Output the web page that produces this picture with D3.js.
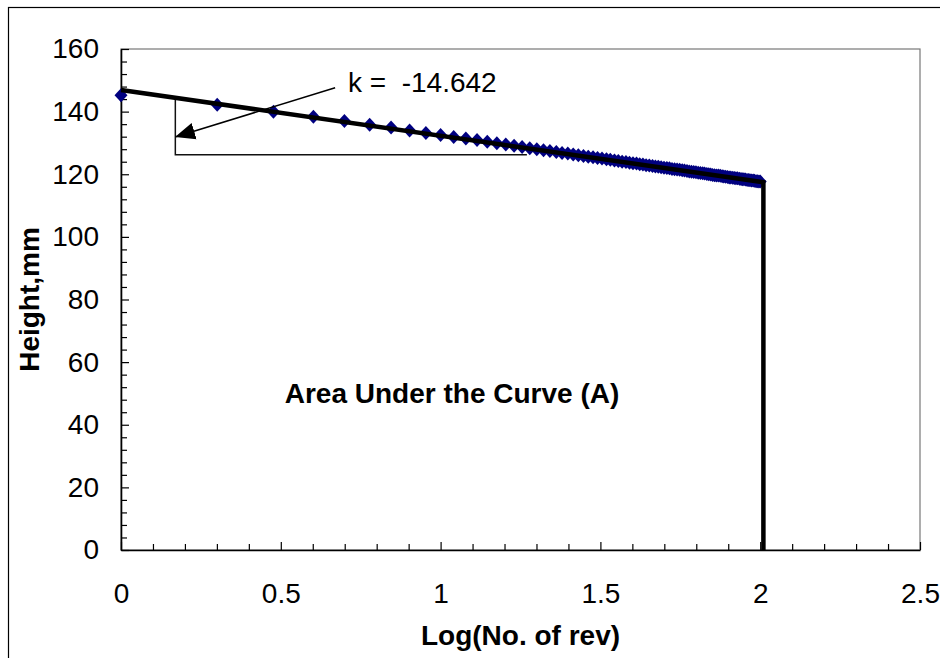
<!DOCTYPE html>
<html>
<head>
<meta charset="utf-8">
<script src="https://cdn.jsdelivr.net/npm/d3@7"></script>
<style>
  body { margin: 0; background: #fff; }
  text { font-family: "Liberation Sans", Arial, sans-serif; fill: #000; }
</style>
</head>
<body>
<div id="chart-area"></div>
<script>
// Data
const logRev = [0, 0.301, 0.477, 0.602, 0.699, 0.778, 0.845, 0.903, 0.954, 1.0,
  1.041, 1.079, 1.114, 1.146, 1.176, 1.204, 1.230, 1.255, 1.279, 1.301,
  1.322, 1.342, 1.362, 1.380, 1.398, 1.415, 1.431, 1.447, 1.462, 1.477,
  1.491, 1.505, 1.519, 1.531, 1.544, 1.556, 1.568, 1.580, 1.591, 1.602,
  1.613, 1.623, 1.633, 1.643, 1.653, 1.663, 1.672, 1.681, 1.690, 1.699,
  1.708, 1.716, 1.724, 1.732, 1.740, 1.748, 1.756, 1.763, 1.771, 1.778,
  1.785, 1.792, 1.799, 1.806, 1.813, 1.820, 1.826, 1.833, 1.839, 1.845,
  1.851, 1.857, 1.863, 1.869, 1.875, 1.881, 1.886, 1.892, 1.898, 1.903,
  1.908, 1.914, 1.919, 1.924, 1.929, 1.935, 1.940, 1.944, 1.949, 1.954,
  1.959, 1.964, 1.968, 1.973, 1.978, 1.982, 1.987, 1.991, 1.996, 2.0]
const height_mm = [145.2, 142.2, 140.0, 138.4, 137.0, 135.8, 134.9, 134.0, 133.2, 132.5,
  131.9, 131.4, 130.9, 130.4, 129.9, 129.5, 129.1, 128.7, 128.3, 128.0,
  127.7, 127.4, 127.1, 126.8, 126.6, 126.3, 126.1, 125.8, 125.6, 125.4,
  125.2, 125.0, 124.8, 124.6, 124.4, 124.2, 124.0, 123.9, 123.7, 123.5,
  123.4, 123.2, 123.1, 122.9, 122.8, 122.6, 122.5, 122.4, 122.2, 122.1,
  122.0, 121.9, 121.7, 121.6, 121.5, 121.4, 121.3, 121.2, 121.0, 120.9,
  120.8, 120.7, 120.6, 120.5, 120.4, 120.3, 120.2, 120.1, 120.0, 119.9,
  119.8, 119.7, 119.6, 119.6, 119.5, 119.4, 119.3, 119.2, 119.1, 119.0,
  119.0, 118.9, 118.8, 118.7, 118.7, 118.6, 118.5, 118.4, 118.4, 118.3,
  118.2, 118.2, 118.1, 118.0, 118.0, 117.9, 117.8, 117.8, 117.7, 117.7]

// Trend line (slope shown on chart) and its end
const slope = -14.642, intercept = 146.9
const trendX = [0, 2.01]

// Slope triangle + arrow annotation
const triX = [0.17, 0.17, 1.27]
const triY = [144.4, 126.2, 126.2]
const arrowFrom = [0.67, 147.6], arrowTo = [0.172, 132.0]

// Ticks
const xTicks = [0, 0.5, 1, 1.5, 2, 2.5]
const xMinor = [0.1, 0.2, 0.3, 0.4, 0.6, 0.7, 0.8, 0.9, 1.1, 1.2, 1.3, 1.4, 1.6, 1.7, 1.8, 1.9, 2.1, 2.2, 2.3, 2.4]
const yTicks = [0, 20, 40, 60, 80, 100, 120, 140, 160]
const yMinor = [4, 8, 12, 16, 24, 28, 32, 36, 44, 48, 52, 56, 64, 68, 72, 76, 84, 88, 92, 96,
  104, 108, 112, 116, 124, 128, 132, 136, 144, 148, 152, 156]

// Config
const W = 940, H = 658
const margin = {top: 49, right: 20, bottom: 108, left: 121}
const width = 920 - margin.left, height = 550 - margin.top
const FS = 28

const svg = d3.select("#chart-area")
  .append("svg")
    .attr("width", W)
    .attr("height", H)

// outer chart border (extends past the picture)
svg.append("rect")
  .attr("x", 8.5).attr("y", 7.5)
  .attr("width", W + 20).attr("height", H + 20)
  .attr("fill", "none").attr("stroke", "#000").attr("stroke-width", 1.2)

const g = svg.append("g")
  .attr("transform", "translate(" + margin.left + ", " + margin.top + ")")

// Scales
const x = d3.scaleLinear().domain([0, 2.5]).range([0, width])
const y = d3.scaleLinear().domain([0, 160]).range([height, 0])

// Plot frame
g.append("rect")
  .attr("width", width).attr("height", height)
  .attr("fill", "none").attr("stroke", "#777").attr("stroke-width", 1.2)

// Axes
const fmt = d3.format("~g")
g.append("g").attr("class", "y minor")
  .call(d3.axisLeft(y).tickValues(yMinor).tickSize(-6).tickFormat(""))
g.append("g").attr("class", "y axis")
  .call(d3.axisLeft(y).tickValues(yTicks).tickSize(-8).tickSizeOuter(0).tickPadding(22).tickFormat(fmt))
g.append("g").attr("class", "x minor").attr("transform", "translate(0, " + height + ")")
  .call(d3.axisBottom(x).tickValues(xMinor).tickSize(-6).tickFormat(""))
g.append("g").attr("class", "x axis").attr("transform", "translate(0, " + height + ")")
  .call(d3.axisBottom(x).tickValues(xTicks).tickSize(-8).tickSizeOuter(0).tickPadding(33).tickFormat(fmt))

g.selectAll(".minor path").remove()
g.selectAll(".axis path").attr("stroke", "#000").attr("stroke-width", 1.6)
g.selectAll(".axis line, .minor line").attr("stroke", "#000").attr("stroke-width", 1.2)
g.selectAll(".axis text")
  .style("font-family", "'Liberation Sans', Arial, sans-serif")
  .style("font-size", FS + "px")
  .attr("fill", "#000")

// Axis titles
svg.append("text")
  .attr("x", margin.left + width / 2).attr("y", 645)
  .attr("text-anchor", "middle")
  .style("font-size", FS + "px").style("font-weight", "bold")
  .text("Log(No. of rev)")

svg.append("text")
  .attr("transform", "translate(39, " + (margin.top + height / 2) + ") rotate(-90)")
  .attr("text-anchor", "middle")
  .style("font-size", FS + "px").style("font-weight", "bold")
  .text("Height,mm")

// Data points
g.selectAll(".pt")
  .data(logRev.map((d, i) => [d, height_mm[i]]))
  .enter().append("path")
    .attr("class", "pt")
    .attr("transform", d => "translate(" + x(d[0]) + ", " + y(d[1]) + ")")
    .attr("d", "M0,-7L6.5,0L0,7L-6.5,0Z")
    .attr("fill", "#000080")

// Slope triangle
g.append("path")
  .attr("d", d3.line().x(d => x(d[0])).y(d => y(d[1]))(triX.map((d, i) => [d, triY[i]])))
  .attr("fill", "none").attr("stroke", "#111").attr("stroke-width", 1.5)

// Trend line + vertical boundary at the last point
const yEnd = slope * trendX[1] + intercept
g.append("path")
  .attr("d", d3.line().x(d => x(d[0])).y(d => y(d[1]))([
    [trendX[0], slope * trendX[0] + intercept],
    [trendX[1], yEnd],
    [trendX[1], 0]
  ]))
  .attr("fill", "none").attr("stroke", "#000").attr("stroke-width", 4.5)

// Arrow
svg.append("defs").append("marker")
  .attr("id", "arrow")
  .attr("viewBox", "0 -9 20 18")
  .attr("refX", 19).attr("refY", 0)
  .attr("markerUnits", "userSpaceOnUse")
  .attr("markerWidth", 20).attr("markerHeight", 18)
  .attr("orient", "auto")
  .append("path").attr("d", "M0,-8.5L20,0L0,8.5Z").attr("fill", "#000")

g.append("line")
  .attr("x1", x(arrowFrom[0])).attr("y1", y(arrowFrom[1]))
  .attr("x2", x(arrowTo[0])).attr("y2", y(arrowTo[1]))
  .attr("stroke", "#000").attr("stroke-width", 1.5)
  .attr("marker-end", "url(#arrow)")

// Labels
svg.append("text")
  .attr("x", 348).attr("y", 92)
  .style("font-size", FS + "px")
  .style("white-space", "pre")
  .text("k =  " + slope)

svg.append("text")
  .attr("x", 452).attr("y", 403)
  .attr("text-anchor", "middle")
  .style("font-size", FS + "px").style("font-weight", "bold")
  .text("Area Under the Curve (A)")
</script>
</body>
</html>
